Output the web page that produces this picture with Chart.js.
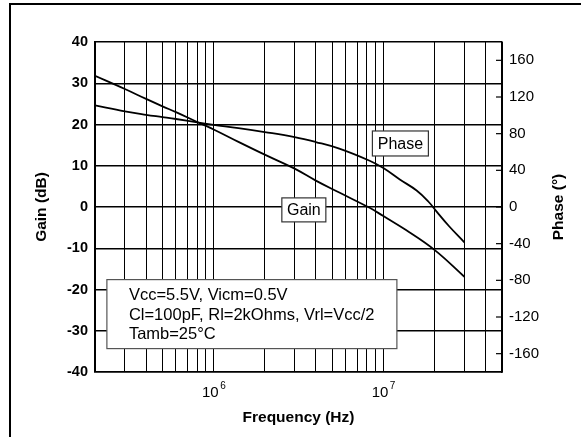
<!DOCTYPE html>
<html>
<head>
<meta charset="utf-8">
<script src="https://cdn.jsdelivr.net/npm/chart.js@4.4.1/dist/chart.umd.min.js"></script>
<style>
body { margin: 0; background: #fff; }
#wrap { position: relative; width: 581px; height: 437px; overflow: hidden; }
#frame { position: absolute; left: 9px; top: 3px; width: 600px; height: 460px; border-left: 2px solid #000; border-top: 2px solid #000; }
canvas { position: absolute; left: 0; top: 0; }
</style>
</head>
<body>
<div id="wrap"><div id="frame"></div><canvas id="bode" width="581" height="437"></canvas></div>
<script>

// values
const gainFreq = [2e5, 3e5, 4e5, 5e5, 6e5, 8e5, 1e6, 1.4e6, 2e6, 3e6, 4e6, 5.5e6, 8.3e6, 1e7, 1.36e7, 2e7, 3e7];
const gainDb = [31.8, 28.6, 26.2, 24.4, 23.0, 20.6, 18.8, 15.8, 12.7, 9.3, 6.4, 3.5, -0.2, -2.2, -5.6, -10.4, -16.9];

const phaseFreq = [2e5, 3e5, 4e5, 5e5, 6e5, 8e5, 1e6, 1.4e6, 2e6, 3e6, 4e6, 5.5e6, 8.3e6, 1e7, 1.25e7, 1.57e7, 1.84e7, 2.06e7, 2.44e7, 3e7];
const phaseDeg = [110.8, 104.3, 100.6, 98.1, 96.0, 92.3, 89.7, 86.1, 81.8, 76.3, 70.9, 63.7, 50.5, 42.5, 30, 18, 6, -5, -21, -38.5];

const gridFreqs = [2e5, 3e5, 4e5, 5e5, 6e5, 7e5, 8e5, 9e5,
	1e6, 2e6, 3e6, 4e6, 5e6, 6e6, 7e6, 8e6, 9e6,
	1e7, 2e7, 3e7, 4e7, 5e7];
const decadeExp = {1e6: '6', 1e7: '7'};
const phaseTicks = [-160, -120, -80, -40, 0, 40, 80, 120, 160];
const infoLines = ['Vcc=5.5V, Vicm=0.5V', 'Cl=100pF, Rl=2kOhms, Vrl=Vcc/2', 'Tamb=25\u00b0C'];

const FONT = '"Liberation Sans", Arial, sans-serif';

function zip(xs, ys) {
	return xs.map((x, i) => ({x: x, y: ys[i]}));
}

function labelBox(ctx, chart, text, f, g, w, h) {
	const cx = chart.scales.x.getPixelForValue(f);
	const cy = chart.scales.y.getPixelForValue(g);
	ctx.fillStyle = '#fff';
	ctx.fillRect(cx - w / 2, cy - h / 2, w, h);
	ctx.strokeStyle = '#333';
	ctx.lineWidth = 1.2;
	ctx.strokeRect(cx - w / 2, cy - h / 2, w, h);
	ctx.fillStyle = '#000';
	ctx.font = '16px ' + FONT;
	ctx.textAlign = 'center';
	ctx.textBaseline = 'middle';
	ctx.fillText(text, cx, cy + 1);
}

const decor = {
	id: 'decor',
	afterDraw(chart) {
		const ctx = chart.ctx;
		const area = chart.chartArea;
		const p = chart.scales.y1;
		const fx = chart.scales.x;
		ctx.save();

		// phase ticks sit inside the frame
		ctx.strokeStyle = '#000';
		ctx.lineWidth = 1.2;
		for (const v of phaseTicks) {
			const y = p.getPixelForValue(v);
			ctx.beginPath();
			ctx.moveTo(area.right - 6, y);
			ctx.lineTo(area.right, y);
			ctx.stroke();
		}

		// decade labels 10^n with a raised exponent
		ctx.fillStyle = '#000';
		ctx.textBaseline = 'alphabetic';
		for (const v of Object.keys(decadeExp)) {
			const x = fx.getPixelForValue(Number(v));
			ctx.font = '15px ' + FONT;
			ctx.textAlign = 'right';
			ctx.fillText('10', x + 5, area.bottom + 25);
			ctx.font = '10px ' + FONT;
			ctx.textAlign = 'left';
			ctx.fillText(decadeExp[v], x + 6.5, area.bottom + 17);
		}

		// right title reads upward
		ctx.save();
		ctx.translate(558.5, (area.top + area.bottom) / 2);
		ctx.rotate(-Math.PI / 2);
		ctx.font = 'bold 15.5px ' + FONT;
		ctx.textAlign = 'center';
		ctx.textBaseline = 'middle';
		ctx.fillText('Phase (\u00b0)', 0, 0);
		ctx.restore();

		labelBox(ctx, chart, 'Phase', 1.26e7, 15.4, 56, 25);
		labelBox(ctx, chart, 'Gain', 3.4e6, -0.7, 44, 24);

		// conditions box
		const bx = fx.getPixelForValue(2.35e5);
		const by = chart.scales.y.getPixelForValue(-17.6);
		ctx.fillStyle = '#fff';
		ctx.fillRect(bx, by, 290, 69);
		ctx.strokeStyle = '#555';
		ctx.lineWidth = 1.2;
		ctx.strokeRect(bx, by, 290, 69);
		ctx.fillStyle = '#000';
		ctx.font = '16.5px ' + FONT;
		ctx.textAlign = 'left';
		ctx.textBaseline = 'alphabetic';
		infoLines.forEach((t, i) => ctx.fillText(t, bx + 22, by + 20.7 + i * 19.3));

		ctx.restore();
	}
};

const bodeChart = new Chart(document.getElementById('bode'), {
	type: 'line',
	data: {
		datasets: [{
			label: 'Gain',
			data: zip(gainFreq, gainDb),
			yAxisID: 'y',
			borderColor: '#000',
			borderWidth: 1.8,
			pointRadius: 0,
			tension: 0.4
		},
		{
			label: 'Phase',
			data: zip(phaseFreq, phaseDeg),
			yAxisID: 'y1',
			borderColor: '#000',
			borderWidth: 1.8,
			pointRadius: 0,
			tension: 0.4
		}]
	},
	options: {
		responsive: false,
		animation: false,
		layout: {padding: {top: 42, left: 0, right: 0, bottom: 0}},
		plugins: {legend: {display: false}, tooltip: {enabled: false}},
		scales: {
			x: {
				type: 'logarithmic',
				min: 2e5,
				max: 5e7,
				afterBuildTicks: (s) => { s.ticks = gridFreqs.map(v => ({value: v})); },
				afterFit: (s) => { s.height = 65; },
				grid: {color: '#000', lineWidth: 1, drawTicks: false},
				border: {color: '#000', width: 1.5},
				ticks: {
					autoSkip: false,
					maxRotation: 0,
					callback: () => ''
				},
				title: {
					display: true,
					text: 'Frequency (Hz)',
					color: '#000',
					font: {family: FONT, size: 15.5, weight: 'bold'},
					padding: {top: 0, bottom: 10}
				}
			},
			y: {
				position: 'left',
				min: -40,
				max: 40,
				afterFit: (s) => { s.width = 95; },
				grid: {color: '#000', lineWidth: 1.4, drawTicks: false},
				border: {color: '#000', width: 2},
				ticks: {
					stepSize: 10,
					padding: 7,
					color: '#000',
					font: {family: FONT, size: 14.5, weight: 'bold'}
				},
				title: {
					display: true,
					text: 'Gain (dB)',
					color: '#000',
					font: {family: FONT, size: 15.5, weight: 'bold'},
					padding: {top: 32, bottom: 0}
				}
			},
			y1: {
				position: 'right',
				min: -180,
				max: 180,
				afterBuildTicks: (s) => { s.ticks = phaseTicks.map(v => ({value: v})); },
				afterFit: (s) => { s.width = 79; },
				grid: {drawOnChartArea: false, drawTicks: false},
				border: {color: '#000', width: 1.5},
				ticks: {
					padding: 7,
					color: '#000',
					font: {family: FONT, size: 15}
				}
			}
		}
	},
	plugins: [decor]
});

</script>
</body>
</html>
